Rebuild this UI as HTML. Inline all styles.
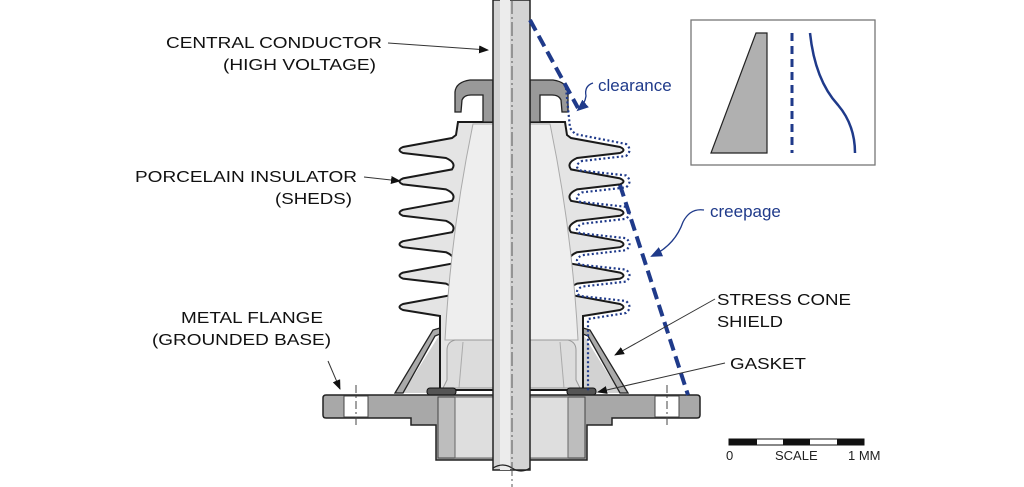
<!DOCTYPE html>
<html><head><meta charset="utf-8"><style>
html,body{margin:0;padding:0;background:#fff;}
svg{display:block;}
text{font-family:"Liberation Sans",sans-serif;}
</style></head><body>
<svg width="1024" height="487" viewBox="0 0 1024 487" xmlns="http://www.w3.org/2000/svg">
<defs>
<marker id="ah" markerWidth="10" markerHeight="8" refX="9" refY="4" orient="auto" markerUnits="userSpaceOnUse">
<path d="M0,0 L10,4 L0,8 Z" fill="#111"/></marker>
<marker id="bh" markerWidth="12" markerHeight="10" refX="10" refY="5" orient="auto" markerUnits="userSpaceOnUse">
<path d="M0,0 L12,5 L0,10 Z" fill="#1f3a8a"/></marker>
<g id="half">
  <!-- area under shield -->
  <path d="M583,334 L620,393 L583,393 Z" fill="#d2d2d2"/>
  <!-- stress cone shield -->
  <path d="M628,393 L590,330 L583,328 L583,334 L588,336 L620,393 Z" fill="#aaa" stroke="#222" stroke-width="1.3"/>
  <!-- insulator body -->
  <path d="M511,122 L565,122 L567,135 L571,138 L620,147 Q627,150 620,153 L577,158 Q566,163 571,169.4 L620,178.4 Q627,181.4 620,184.4 L577,189.4 Q566,194.4 571,200.8 L620,209.8 Q627,212.8 620,215.8 L577,220.8 Q566,225.8 571,232.2 L620,241.2 Q627,244.2 620,247.2 L577,252.2 Q566,257.2 571,263.6 L620,272.6 Q627,275.6 620,278.6 L577,283.6 Q566,288.6 571,295 L620,304 Q627,307 620,310 L583,316 L583,390 L511,390 Z" fill="#e4e4e4" stroke="#1a1a1a" stroke-width="2"/>
  <!-- inner bore -->
  <path d="M511,124 L550,124 Q572,230 578,340 L511,340 Z" fill="#eeeeee" stroke="#aaa" stroke-width="1"/>
  <!-- inner cup -->
  <path d="M511,340 L568,340 Q576,342 576,350 L576,380 L580,388 L511,388 Z" fill="#dcdcdc" stroke="#999" stroke-width="1"/>
  <path d="M560,342 L564,388" stroke="#aaa" stroke-width="1"/>
  <!-- cap -->
  <path d="M530,80 L553,80 Q567,82 568,92 L568,112 L562,112 L561,100 Q559,95 552,95 L540,95 L540,122 L530,122 Z" fill="#999" stroke="#222" stroke-width="1.3"/>
  <!-- gasket -->
  <rect x="567" y="388" width="29" height="7" rx="3" fill="#555" stroke="#111" stroke-width="1"/>
  <!-- flange -->
  <path d="M511,395 L697,395 Q700,395 700,398 L700,415 Q700,418 697,418 L612,418 L612,425 L587,425 L587,460 L511,460 Z" fill="#a8a8a8" stroke="#222" stroke-width="1.5"/>
  <rect x="568" y="397" width="17" height="61" fill="#bdbdbd" stroke="#444" stroke-width="1"/>
  <rect x="530" y="397" width="38" height="61" fill="#dedede" stroke="#666" stroke-width="1"/>
  <rect x="655" y="396" width="24" height="21" fill="#fff" stroke="#444" stroke-width="1"/>
  <line x1="667" y1="385" x2="667" y2="428" stroke="#444" stroke-width="1" stroke-dasharray="8,3,2,3"/>
</g>
</defs>
<use href="#half"/>
<use href="#half" transform="translate(1023,0) scale(-1,1)"/>
<!-- rod -->
<rect x="493" y="0" width="37" height="470" fill="#d4d4d4" stroke="#222" stroke-width="1.5"/>
<rect x="500" y="0" width="10" height="470" fill="#ececec"/>
<path d="M493,468 Q503,462 512,468 Q521,474 530,468" fill="none" stroke="#222" stroke-width="1.3"/>
<line x1="512" y1="0" x2="512" y2="487" stroke="#555" stroke-width="1" stroke-dasharray="14,3,2,3"/>
<!-- clearance dotted -->
<path d="M566,88 L570,128 L575,134 L626,144 Q633,150 626,156 L582,161 Q573,165.7 580,170.4 L626,175.4 Q633,181.4 626,187.4 L582,192.4 Q573,197.1 580,201.8 L626,206.8 Q633,212.8 626,218.8 L582,223.8 Q573,228.5 580,233.2 L626,238.2 Q633,244.2 626,250.2 L582,255.2 Q573,259.9 580,264.6 L626,269.6 Q633,275.6 626,281.6 L582,286.6 Q573,291.3 580,296 L626,301 Q633,307 626,313 L588,319 L588,392" fill="none" stroke="#1f3a8a" stroke-width="2.2" stroke-dasharray="2,2.5"/>
<!-- creepage dashed -->
<path d="M530,20 L578,108" stroke="#1f3a8a" stroke-width="4" stroke-dasharray="12,6" fill="none"/>
<path d="M620,185 L688,395" stroke="#1f3a8a" stroke-width="4" stroke-dasharray="12,6" fill="none"/>
<!-- blue labels -->
<text x="598" y="91" font-size="17" fill="#1f3a8a">clearance</text>
<path d="M593,83 Q584,86 586,96 Q585,104 578,110" fill="none" stroke="#1f3a8a" stroke-width="1.3" marker-end="url(#bh)"/>
<text x="710" y="217" font-size="17" fill="#1f3a8a">creepage</text>
<path d="M704,210 Q690,208 683,222 Q675,245 652,256" fill="none" stroke="#1f3a8a" stroke-width="1.3" marker-end="url(#bh)"/>
<!-- black labels -->
<g font-size="16" fill="#111" text-anchor="end">
<text x="382" y="48" textLength="216" lengthAdjust="spacingAndGlyphs">CENTRAL CONDUCTOR</text>
<text x="376" y="70" textLength="153" lengthAdjust="spacingAndGlyphs">(HIGH VOLTAGE)</text>
<text x="357" y="182" textLength="222" lengthAdjust="spacingAndGlyphs">PORCELAIN INSULATOR</text>
<text x="352" y="204" textLength="77" lengthAdjust="spacingAndGlyphs">(SHEDS)</text>
<text x="323" y="323" textLength="142" lengthAdjust="spacingAndGlyphs">METAL FLANGE</text>
<text x="331" y="345" textLength="179" lengthAdjust="spacingAndGlyphs">(GROUNDED BASE)</text>
</g>
<g font-size="16" fill="#111">
<text x="717" y="305" textLength="134" lengthAdjust="spacingAndGlyphs">STRESS CONE</text>
<text x="717" y="327" textLength="66" lengthAdjust="spacingAndGlyphs">SHIELD</text>
<text x="730" y="369" textLength="76" lengthAdjust="spacingAndGlyphs">GASKET</text>
</g>
<g stroke="#333" stroke-width="1" fill="none">
<line x1="388" y1="43" x2="488" y2="50" marker-end="url(#ah)"/>
<line x1="364" y1="177" x2="400" y2="181" marker-end="url(#ah)"/>
<line x1="328" y1="361" x2="340" y2="389" marker-end="url(#ah)"/>
<line x1="715" y1="299" x2="615" y2="355" marker-end="url(#ah)"/>
<line x1="725" y1="363" x2="598" y2="392" marker-end="url(#ah)"/>
</g>
<!-- inset -->
<rect x="691" y="20" width="184" height="145" fill="#fff" stroke="#777" stroke-width="1.3"/>
<path d="M711,153 L756,33 L767,33 L767,153 Z" fill="#b0b0b0" stroke="#222" stroke-width="1.2"/>
<line x1="792" y1="33" x2="792" y2="153" stroke="#1f3a8a" stroke-width="3" stroke-dasharray="8,5"/>
<path d="M810,33 Q815,80 838,105 Q855,125 855,153" fill="none" stroke="#1f3a8a" stroke-width="2.5"/>
<!-- scale bar -->
<rect x="729" y="439" width="135" height="6" fill="#fff" stroke="#111" stroke-width="1"/>
<rect x="729" y="439" width="28" height="6" fill="#111"/>
<rect x="783" y="439" width="27" height="6" fill="#111"/>
<rect x="837" y="439" width="27" height="6" fill="#111"/>
<g font-size="13" fill="#222">
<text x="726" y="460">0</text>
<text x="775" y="460">SCALE</text>
<text x="848" y="460">1 MM</text>
</g>
</svg>
</body></html>
